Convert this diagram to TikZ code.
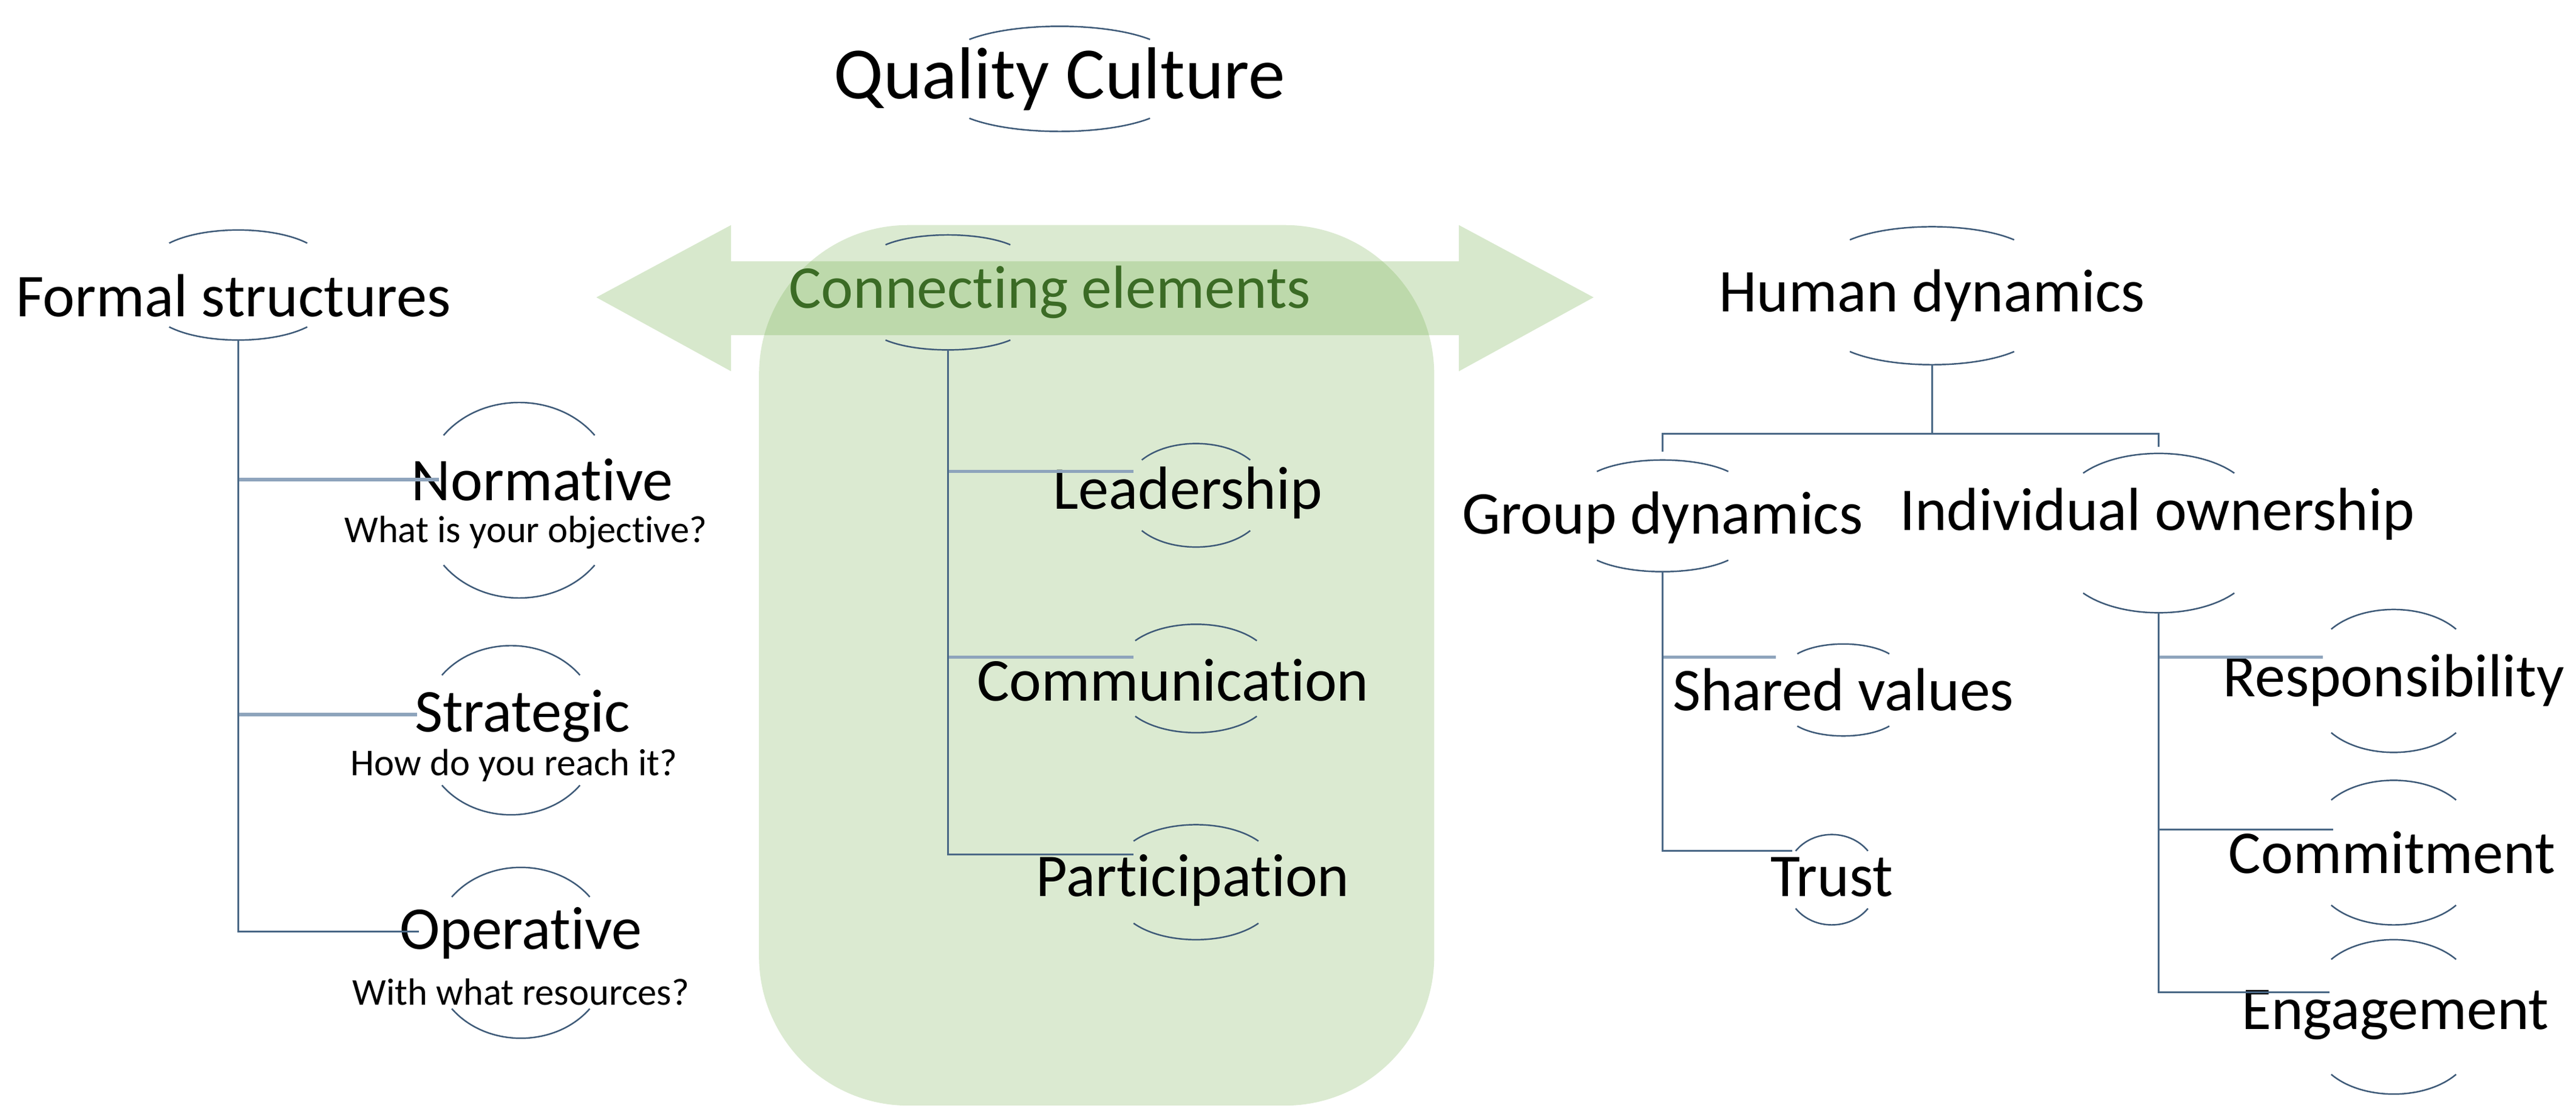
\documentclass[tikz,border=0pt]{standalone}
\usepackage{fontspec}
\setmainfont{Carlito}[Ligatures={NoCommon}]
\definecolor{arcc}{HTML}{3E5A78}
\definecolor{trunkc}{HTML}{4A6886}
\definecolor{branchc}{HTML}{8EA4BC}
\definecolor{greenf}{HTML}{70AD47}
\definecolor{greent}{HTML}{3B6B25}
\newcommand\twoarcs[5]{%
\draw[arcst] ({#1-#4},{#2+#5}) .. controls ({#1-#4/2},{#2-#5/3}) and ({#1+#4/2},{#2-#5/3}) .. ({#1+#4},{#2+#5});
\draw[arcst] ({#1-#4},{#3-#5}) .. controls ({#1-#4/2},{#3+#5/3}) and ({#1+#4/2},{#3+#5/3}) .. ({#1+#4},{#3-#5});}
\begin{document}
\begin{tikzpicture}[x=0.02706cm,y=-0.02706cm,
 arcst/.style={draw=arcc,line width=0.7pt},
 trunk/.style={draw=trunkc,line width=0.9pt},
 branch/.style={draw=branchc,line width=1.6pt},
 lab/.style={inner sep=0pt,font=\fontsize{28.5}{32}\selectfont},
 sub/.style={inner sep=0pt,font=\fontsize{17.8}{21}\selectfont}]
\useasboundingbox (0,0) rectangle (1568,678);
% green box and arrow
\fill[greenf,opacity=0.25,rounded corners=70] (462,137) rectangle (873,673);
\fill[greenf,opacity=0.28] (363,181) -- (445,137) -- (445,159) -- (888,159) -- (888,137) -- (970,181) -- (888,226) -- (888,204) -- (445,204) -- (445,226) -- cycle;
% texts
\node[inner sep=0pt,font=\fontsize{34.5}{38}\selectfont] (title) at (645,48) {Quality Culture};
\node[lab] (formal) at (142,180) {Formal structures};
\node[lab] (norm) at (330,292) {Normative};
\node[sub] (norms) at (320,324) {What is your objective?};
\node[lab] (strat) at (318,436) {Strategic};
\node[sub] (strats) at (313,466) {How do you reach it?};
\node[lab] (oper) at (317,568) {Operative};
\node[sub] (opers) at (317,604) {With what resources?};
\node[lab,text=greent] (conn) at (639,178) {Connecting elements};
\node[lab] (lead) at (723,300) {Leadership};
\node[lab] (comm) at (714,414) {Communication};
\node[lab] (part) at (726,536) {Participation};
\node[lab] (human) at (1176,180) {Human dynamics};
\node[lab] (group) at (1012,315) {Group dynamics};
\node[lab] (indiv) at (1313,313) {Individual ownership};
\node[lab] (shared) at (1122,420) {Shared values};
\node[lab] (trust) at (1115,534) {Trust};
\node[lab] (resp) at (1457,414) {Responsibility};
\node[lab] (commit) at (1456,519) {Commitment};
\node[lab] (engage) at (1458,618) {Engagement};
% arcs
\twoarcs{645}{16}{80}{55}{8}
\twoarcs{145}{140}{207}{42}{8}
\twoarcs{316}{245}{364}{46}{20}
\twoarcs{311}{393}{496}{42}{18}
\twoarcs{317}{528}{632}{42}{18}
\twoarcs{577}{143}{213}{38}{6}
\twoarcs{728}{270}{333}{33}{10}
\twoarcs{728}{380}{446}{37}{10}
\twoarcs{728}{502}{572}{38}{10}
\twoarcs{1176}{138}{222}{50}{8}
\twoarcs{1012}{280}{348}{40}{7}
\twoarcs{1314}{276}{373}{46}{12}
\twoarcs{1122}{392}{448}{28}{6}
\twoarcs{1115}{508}{563}{22}{10}
\twoarcs{1457}{371}{458}{38}{12}
\twoarcs{1457}{475}{563}{38}{12}
\twoarcs{1457}{572}{666}{38}{12}
% coordinates
\coordinate (fT) at (145,207); \coordinate (fB) at (145,567);
\coordinate (nE) at (267,292); \coordinate (sE) at (254,435); \coordinate (oE) at (255,567);
\coordinate (cT) at (577,213); \coordinate (cB) at (577,520);
\coordinate (lE) at (690,287); \coordinate (mE) at (690,400); \coordinate (pE) at (690,520);
\coordinate (hT) at (1176,222); \coordinate (hJ) at (1176,264);
\coordinate (gJ) at (1012,264); \coordinate (iJ) at (1314,264);
\coordinate (gT) at (1012,275); \coordinate (iT) at (1314,272);
\coordinate (gB) at (1012,348); \coordinate (gE) at (1012,518); \coordinate (tE) at (1091,518);
\coordinate (svE) at (1081,400);
\coordinate (iB) at (1314,373); \coordinate (iE) at (1314,604);
\coordinate (rE) at (1414,400); \coordinate (cmE) at (1420,505); \coordinate (eE) at (1418,604);
% connectors
\draw[branch] (145,292) -- (nE);
\draw[branch] (145,435) -- (sE);
\draw[trunk] (fT) -- (fB) -- (oE);
\draw[branch] (577,287) -- (lE);
\draw[branch] (577,400) -- (mE);
\draw[trunk] (cT) -- (cB) -- (pE);
\draw[trunk] (hT) -- (hJ);
\draw[trunk] (gT) -- (gJ) -- (iJ) -- (iT);
\draw[branch] (1012,400) -- (svE);
\draw[trunk] (gB) -- (gE) -- (tE);
\draw[branch] (1314,400) -- (rE);
\draw[trunk] (1314,505) -- (cmE);
\draw[trunk] (iB) -- (iE) -- (eE);
\end{tikzpicture}
\end{document}
